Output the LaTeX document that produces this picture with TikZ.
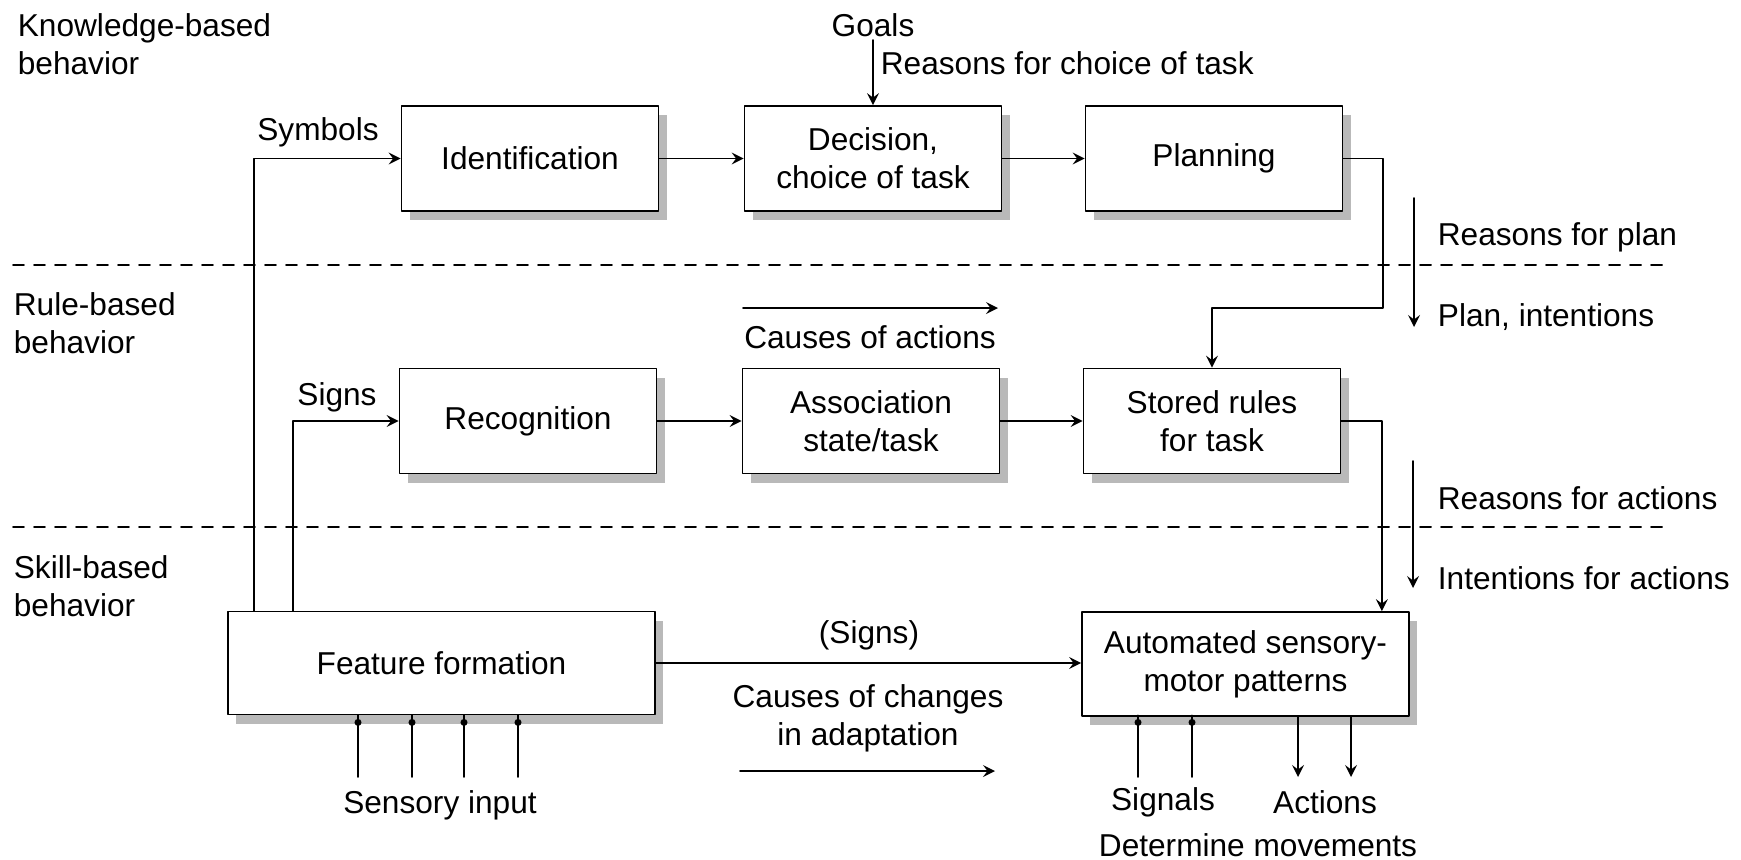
\documentclass[tikz,border=0pt]{standalone}
\usepackage{fontspec}
\setmainfont{Liberation Sans}
\usetikzlibrary{shadows}
\begin{document}
\begin{tikzpicture}[>=stealth,line join=round,line cap=round,line width=0.5pt,
	font=\fontsize{9}{10.8}\selectfont,
	blk/.style={draw,fill=white,align=center,inner sep=0pt,minimum width=2.57cm,minimum height=1.05cm,
		drop shadow={shadow xshift=0.08cm,shadow yshift=-0.09cm,fill=gray!55,opacity=1}},
	lbl/.style={inner sep=0pt,align=left}]
	\useasboundingbox (0,0) rectangle (17.41,-8.59);
	%Ranh giới các tầng
	\path
	(0.13,-2.65) coordinate (L1) (16.70,-2.65) coordinate (R1)
	(0.13,-5.27) coordinate (L2) (16.70,-5.27) coordinate (R2)
	;
	\draw[dash pattern=on 0.11cm off 0.10cm] (L1)--(R1)(L2)--(R2);
	\node[lbl,anchor=west] (kb) at (0.17,-0.44) {Knowledge-based\\behavior};
	\node[lbl,anchor=west] (rb) at (0.13,-3.23) {Rule-based\\behavior};
	\node[lbl,anchor=west] (sb) at (0.13,-5.86) {Skill-based\\behavior};
	%Các khối
	\node[blk] (ident) at (5.30,-1.585) {Identification};
	\node[blk] (decide) at (8.73,-1.585) {Decision,\\choice of task};
	\node[blk] (plan) at (12.14,-1.585) {Planning};
	\node[blk] (recog) at (5.28,-4.21) {Recognition};
	\node[blk] (assoc) at (8.71,-4.21) {Association\\state/task};
	\node[blk] (rules) at (12.12,-4.21) {Stored rules\\for task};
	\node[blk,minimum width=4.27cm,minimum height=1.03cm] (feat) at (4.415,-6.63) {Feature formation};
	\node[blk,minimum width=3.27cm,minimum height=1.04cm] (auto) at (12.455,-6.64) {Automated sensory-\\motor patterns};
	%Mũi tên giữa các khối
	\draw[->] (ident)--(decide);
	\draw[->] (decide)--(plan);
	\draw[->] (recog)--(assoc);
	\draw[->] (assoc)--(rules);
	\coordinate (pb) at (13.83,-3.08);
	\draw[->] (plan.east)-|(pb)-|(rules.north);
	\draw[->] (rules.east)-|([xshift=-0.28cm]auto.north east);
	\draw[->] (feat.east)--(feat.east-|auto.west);
	\draw[->] ([xshift=0.27cm]feat.north west)|-(ident.west);
	\draw[->] ([xshift=0.66cm]feat.north west)|-(recog.west);
	\node (sym) at (3.18,-1.32) {Symbols};
	\node (sgn) at (3.37,-3.97) {Signs};
	%Goals
	\node (goals) at (8.73,-0.25) {Goals};
	\coordinate (g0) at (8.73,-0.40);
	\draw[->] (g0)--(decide.north);
	\node[lbl,anchor=west] (rct) at (8.80,-0.63) {Reasons for choice of task};
	%Mũi tên bên phải
	\path
	(14.14,-1.98) coordinate (a1) (14.14,-3.27) coordinate (a2)
	(14.13,-4.61) coordinate (b1) (14.13,-5.88) coordinate (b2)
	(7.43,-3.08) coordinate (c1) (9.98,-3.08) coordinate (c2)
	(7.40,-7.71) coordinate (d1) (9.95,-7.71) coordinate (d2)
	;
	\draw[->] (a1)--(a2);
	\draw[->] (b1)--(b2);
	\draw[->] (c1)--(c2);
	\draw[->] (d1)--(d2);
	\node[lbl,anchor=west] (rp) at (14.37,-2.37) {Reasons for plan};
	\node[lbl,anchor=west] (pi) at (14.37,-3.17) {Plan, intentions};
	\node[lbl,anchor=west] (ra) at (14.37,-4.98) {Reasons for actions};
	\node[lbl,anchor=west] (ia) at (14.37,-5.78) {Intentions for actions};
	\node (coa) at (8.70,-3.37) {Causes of actions};
	\node (sg2) at (8.69,-6.35) {(Signs)};
	\node[align=center] (coc) at (8.68,-7.18) {Causes of changes\\in adaptation};
	%Đầu vào, đầu ra
	\foreach \x/\n in {3.58/s1,4.12/s2,4.64/s3,5.18/s4,11.38/s5,11.92/s6}{
		\coordinate (\n) at (\x,-7.77);
		\draw (\n)--(\n|-feat.south);
		\fill (\n|-feat.south)++(0,-0.07) circle (1pt);}
	\foreach \x/\n in {12.98/t1,13.51/t2}{
		\coordinate (\n) at (\x,-7.77);
		\draw[->] (\n|-auto.south)--(\n);}
	\node (sin) at (4.40,-8.05) {Sensory input};
	\node (sig) at (11.63,-8.02) {Signals};
	\node (act) at (13.25,-8.02) {Actions};
	\node (dm) at (12.58,-8.45) {Determine movements};
\end{tikzpicture}
\end{document}
